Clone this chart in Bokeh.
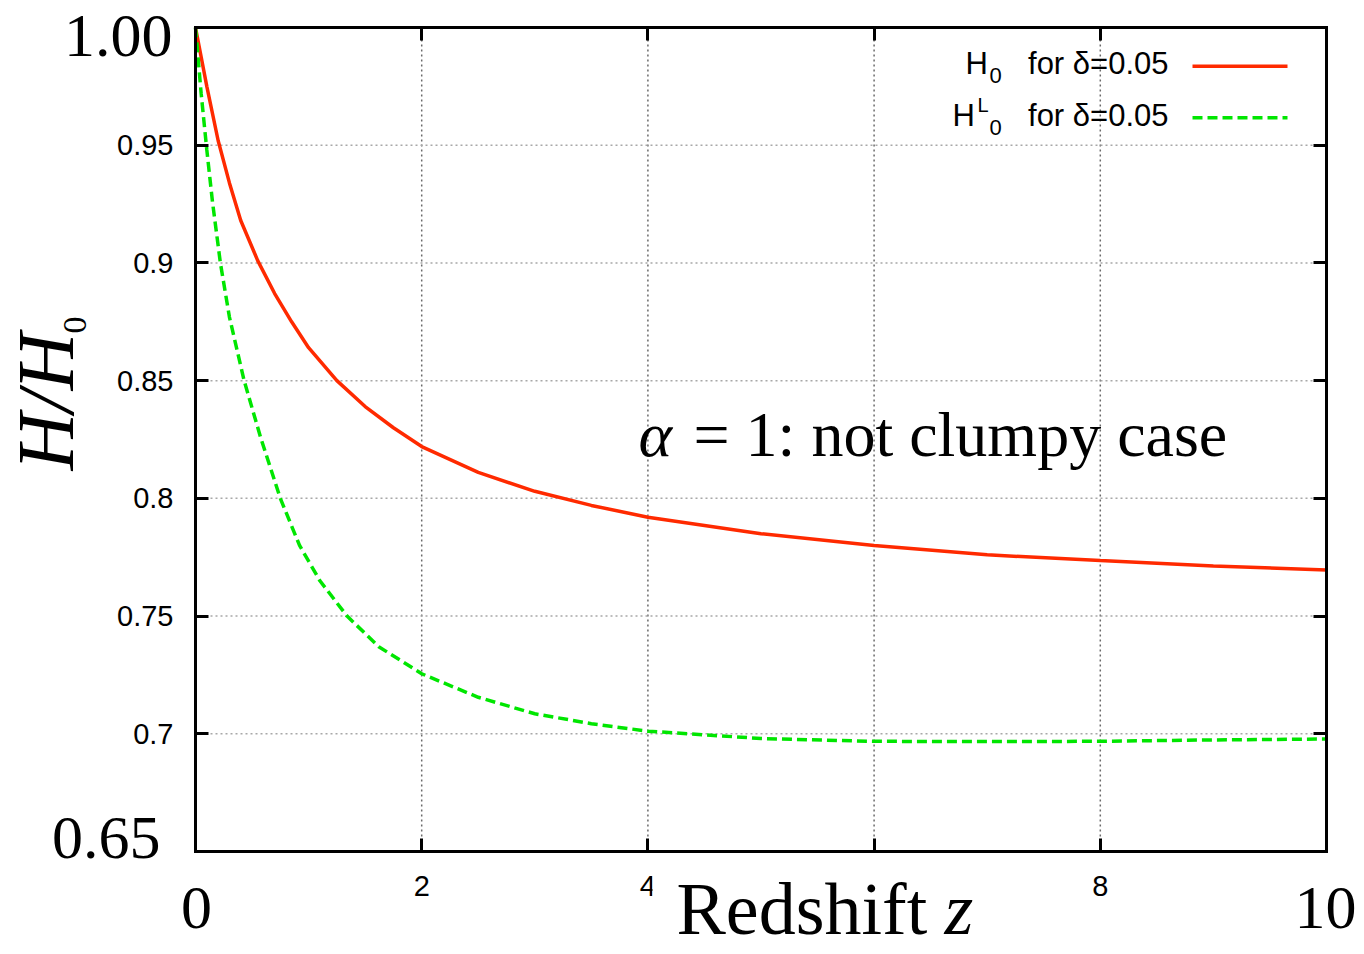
from math import pi
from bokeh.plotting import figure
from bokeh.models import Range1d, FixedTicker, LinearAxis, Label, BoxAnnotation
from bokeh.embed import file_html
from bokeh.resources import INLINE

# ---------------- data ----------------
z_red = [0, 0.1, 0.2, 0.3, 0.4, 0.55, 0.7, 0.85, 1.0, 1.25, 1.5, 1.75, 2.0, 2.5, 3.0, 3.5,
         4.0, 5.0, 6.0, 7.0, 8.0, 9.0, 10.0]
h_red = [1.0, 0.975, 0.952, 0.934, 0.918, 0.901, 0.887, 0.875, 0.864, 0.850, 0.839, 0.830, 0.822,
         0.811, 0.803, 0.797, 0.792, 0.785, 0.780, 0.776, 0.7736, 0.7713, 0.7696]

z_green = [0, 0.05, 0.1, 0.15, 0.22, 0.3, 0.43, 0.575, 0.75, 0.92, 1.1, 1.34, 1.62, 2.0, 2.5,
           3.0, 3.5, 4.0, 5.0, 6.0, 7.0, 8.0, 9.0, 10.0]
h_green = [1.0, 0.972, 0.948, 0.926, 0.900, 0.877, 0.850, 0.826, 0.800, 0.780, 0.765, 0.750, 0.737,
           0.7255, 0.7155, 0.7085, 0.7043, 0.7011, 0.698, 0.6968, 0.6967, 0.6968, 0.6974, 0.6978]

x_ticks = [2, 4, 6, 8]
x_tick_labels = ["2", "4", "6", "8"]
y_ticks = [0.7, 0.75, 0.8, 0.85, 0.9, 0.95]
y_tick_labels = ["0.7", "0.75", "0.8", "0.85", "0.9", "0.95"]
x_lo, x_hi = 0, 10
y_lo, y_hi = 0.65, 1.0
big_y_labels = ["1.00", "0.65"]
big_x_labels = ["0", "10"]
x_title = ["Redshift", "z"]
y_title = ["H/H", "0"]
annotation = ["\u03b1", "= 1: not clumpy case"]
legend_main = ["H", "H"]
legend_sup = ["", "L"]
legend_sub = ["0", "0"]
legend_tail = ["for \u03b4=0.05", "for \u03b4=0.05"]

RED = "#ff2a00"
GREEN = "#00e600"
SERIF = "Liberation Serif"
SANS = "Liberation Sans"

# ---------------- layout (page pixels; the plot frame fills the canvas) ----------------
W, H = 1364, 954
X0, X1, Y0, Y1 = 195, 1326, 27, 851   # plot box on the page
SX = (X1 - X0) / (x_hi - x_lo)
SY = (Y1 - Y0) / (y_hi - y_lo)
BASE_SHIFT = 0.4  # rendered baseline sits this many em below the label anchor


def px2x(page_x):
    return x_lo + (page_x - X0) / SX


def px2y(page_y):
    return y_hi - (page_y - Y0) / SY


p = figure(width=W, height=H, title=None,
           x_range=Range1d(px2x(0), px2x(W)), y_range=Range1d(px2y(H), px2y(0)),
           output_backend="svg", toolbar_location=None, min_border=0)
p.min_border_left = p.min_border_right = p.min_border_top = p.min_border_bottom = 0
p.background_fill_color = "white"
p.border_fill_color = "white"
p.outline_line_color = None
p.xgrid.visible = False
p.ygrid.visible = False


def add_text(x_px, base_px, text, fs, font=SERIF, style="normal", align="left"):
    p.add_layout(Label(x=px2x(x_px), y=px2y(base_px - BASE_SHIFT * fs), text=text,
                       text_font=font, text_font_style=style, text_font_size=f"{fs}px",
                       text_align=align, text_baseline="alphabetic", text_color="black"))


def add_vtext(base_px, start_px, text, fs, font=SERIF, style="normal"):
    p.add_layout(Label(x=px2x(base_px - BASE_SHIFT * fs), y=px2y(start_px), text=text,
                       text_font=font, text_font_style=style, text_font_size=f"{fs}px",
                       angle=pi / 2, text_align="left", text_baseline="alphabetic",
                       text_color="black"))


# grid (dotted), drawn from the tick arrays inside the plot box
p.segment(x0=x_ticks, y0=[y_lo] * len(x_ticks), x1=x_ticks, y1=[y_hi] * len(x_ticks),
          line_color="#6a6a6a", line_width=1.5, line_dash="2 3")
p.segment(x0=[x_lo] * len(y_ticks), y0=y_ticks, x1=[x_hi] * len(y_ticks), y1=y_ticks,
          line_color="#a8a8a8", line_width=1.5, line_dash="2 3")


def style_axis(ax, show_labels):
    ax.axis_line_color = "black"
    ax.axis_line_width = 3
    ax.axis_line_cap = "square"
    ax.major_tick_in = 13
    ax.major_tick_out = 0
    ax.major_tick_line_width = 3
    ax.major_tick_line_color = "black"
    ax.minor_tick_in = 0
    ax.minor_tick_out = 0
    if show_labels:
        ax.major_label_text_font = SANS
        ax.major_label_text_font_size = "29px"
        ax.major_label_text_color = "black"
    else:
        ax.major_label_text_font_size = "0px"
        ax.major_label_standoff = 0


xa = p.xaxis[0]
xa.ticker = FixedTicker(ticks=x_ticks)
xa.major_label_overrides = {t: l for t, l in zip(x_ticks, x_tick_labels)}
xa.fixed_location = y_lo
xa.bounds = (x_lo, x_hi)
style_axis(xa, True)
xa.major_label_standoff = 24

ya = p.yaxis[0]
ya.ticker = FixedTicker(ticks=y_ticks)
ya.major_label_overrides = {t: l for t, l in zip(y_ticks, y_tick_labels)}
ya.fixed_location = x_lo
ya.bounds = (y_lo, y_hi)
style_axis(ya, True)
ya.major_label_standoff = 22

top_ax = LinearAxis(ticker=FixedTicker(ticks=x_ticks), fixed_location=y_hi, bounds=(x_lo, x_hi),
                    major_label_overrides={t: "" for t in x_ticks})
style_axis(top_ax, False)
right_ax = LinearAxis(ticker=FixedTicker(ticks=y_ticks), fixed_location=x_hi, bounds=(y_lo, y_hi),
                      major_label_overrides={t: "" for t in y_ticks})
style_axis(right_ax, False)
p.add_layout(top_ax, "above")
p.add_layout(right_ax, "right")

# curves
p.line(z_red, h_red, line_color=RED, line_width=3.5)
p.line(z_green, h_green, line_color=GREEN, line_width=3.5, line_dash="10 5")

# legend (gnuplot style: text left of the sample line)
leg_rows = [(75, 65.7, RED, "solid", 965), (127, 117.3, GREEN, "10 5", 952)]
for i, (base, ly, col, dash, hx) in enumerate(leg_rows):
    add_text(hx, base, legend_main[i], 31, font=SANS)
    if legend_sup[i]:
        add_text(977, base - 15, legend_sup[i], 20, font=SANS)
    add_text(989, base + 9, legend_sub[i], 22, font=SANS)
    add_text(1168, base, legend_tail[i], 31, font=SANS, align="right")
    p.line([px2x(1192), px2x(1287)], [px2y(ly), px2y(ly)], line_color=col, line_width=3.5,
           line_dash=dash)

# white patch behind the x title (it hides part of the x tick labels, as in the reference)
p.add_layout(BoxAnnotation(left=px2x(652), right=px2x(990), top=px2y(866), bottom=px2y(H),
                           fill_color="white", fill_alpha=1.0, line_color=None))

# big serif tick labels
add_text(172, 60, big_y_labels[0], 62, align="right")
add_text(160, 862, big_y_labels[1], 62, align="right")
add_text(196, 932, big_x_labels[0], 62, align="center")
add_text(1325, 932, big_x_labels[1], 62, align="center")

# axis titles
add_text(676, 938, x_title[0], 74)
add_text(944, 938, x_title[1], 74, style="italic")
add_vtext(77, 470, y_title[0], 80, style="italic")
add_vtext(88, 333, y_title[1], 34)

# annotation
add_text(638, 460, annotation[0], 64, style="italic")
add_text(693, 460, annotation[1], 64)

open("out.html", "w").write(file_html(p, INLINE))
